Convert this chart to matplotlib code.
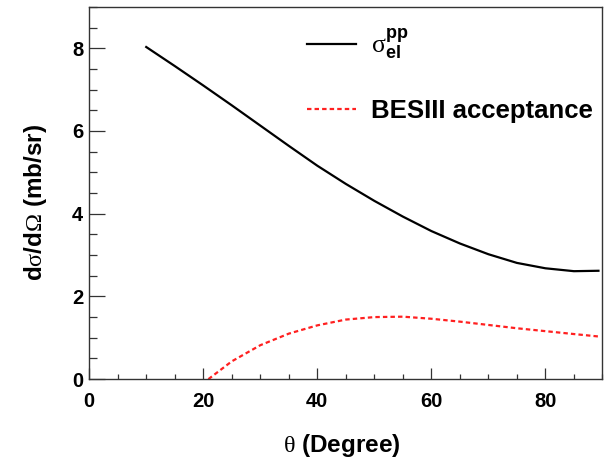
import matplotlib
matplotlib.use("Agg")
import matplotlib.pyplot as plt
from matplotlib.ticker import MultipleLocator

# ---- data ----
theta_el = [10, 15, 20, 25, 30, 35, 40, 45, 50, 55, 60, 65, 70, 75, 80, 85, 89.3]
sigma_el = [8.03, 7.57, 7.10, 6.62, 6.13, 5.64, 5.16, 4.72, 4.31, 3.93, 3.58, 3.28, 3.02, 2.81, 2.68, 2.61, 2.62]

theta_acc = [20.9, 25, 30, 35, 40, 45, 50, 55, 60, 65, 70, 75, 80, 85, 89.4]
accept = [0.0, 0.43, 0.82, 1.10, 1.30, 1.44, 1.50, 1.51, 1.46, 1.39, 1.31, 1.23, 1.16, 1.09, 1.03]

label_el = r'$\mathrm{\sigma}_{\mathbf{el}}^{\mathbf{pp}}$'
label_acc = 'BESIII acceptance'
xlabel = r'$\mathrm{\theta}$ (Degree)'
ylabel = r'd$\mathrm{\sigma}$/d$\mathrm{\Omega}$ (mb/sr)'

plt.rcParams['font.family'] = ['Liberation Sans', 'DejaVu Sans']
plt.rcParams['mathtext.fontset'] = 'custom'
plt.rcParams['mathtext.rm'] = 'Liberation Serif:weight=normal'
plt.rcParams['mathtext.bf'] = 'Liberation Sans:weight=bold'
plt.rcParams['mathtext.it'] = 'Liberation Serif:italic:weight=normal'

fig = plt.figure(figsize=(6.11, 4.59), dpi=100)
ax = fig.add_axes([0.146, 0.174, 0.840, 0.811])

ax.plot(theta_el, sigma_el, color='black', lw=1.6, label=label_el)
ax.plot(theta_acc, accept, color='#ff2020', lw=1.6, linestyle=(0, (2.0, 1.4)), label=label_acc)

ax.set_xlim(0, 90)
ax.set_ylim(0, 9)
ax.xaxis.set_major_locator(MultipleLocator(20))
ax.xaxis.set_minor_locator(MultipleLocator(5))
ax.yaxis.set_major_locator(MultipleLocator(2))
ax.yaxis.set_minor_locator(MultipleLocator(0.5))

ax.tick_params(axis='x', which='major', direction='in', length=7.7, width=0.9, pad=9.0, labelsize=14.5, color='#333333')
ax.tick_params(axis='x', which='minor', direction='in', length=3.6, width=0.9, color='#333333')
ax.tick_params(axis='y', which='major', direction='in', length=11.5, width=0.9, pad=4.3, labelsize=14.5, color='#333333')
ax.tick_params(axis='y', which='minor', direction='in', length=5.8, width=0.9, color='#333333')
for lab in ax.get_xticklabels() + ax.get_yticklabels():
    lab.set_fontweight('bold')
for s in ax.spines.values():
    s.set_linewidth(1.0)
    s.set_color('#333333')

ax.set_xlabel(xlabel, fontsize=17.5, fontweight='bold')
ax.xaxis.set_label_coords(0.493, -0.178)
ax.xaxis.label.set_va('center')
ax.set_ylabel(ylabel, fontsize=17.5, fontweight='bold')
ax.yaxis.set_label_coords(-0.104, 0.476)
ax.yaxis.label.set_va('center')

leg = ax.legend(loc='upper left', bbox_to_anchor=(0.424, 0.947), frameon=False,
                fontsize=18.5, handlelength=1.9, handletextpad=0.6, labelspacing=1.5,
                borderpad=0, borderaxespad=0)
for t in leg.get_texts():
    t.set_fontweight('bold')

fig.savefig('out.png', dpi=100)
